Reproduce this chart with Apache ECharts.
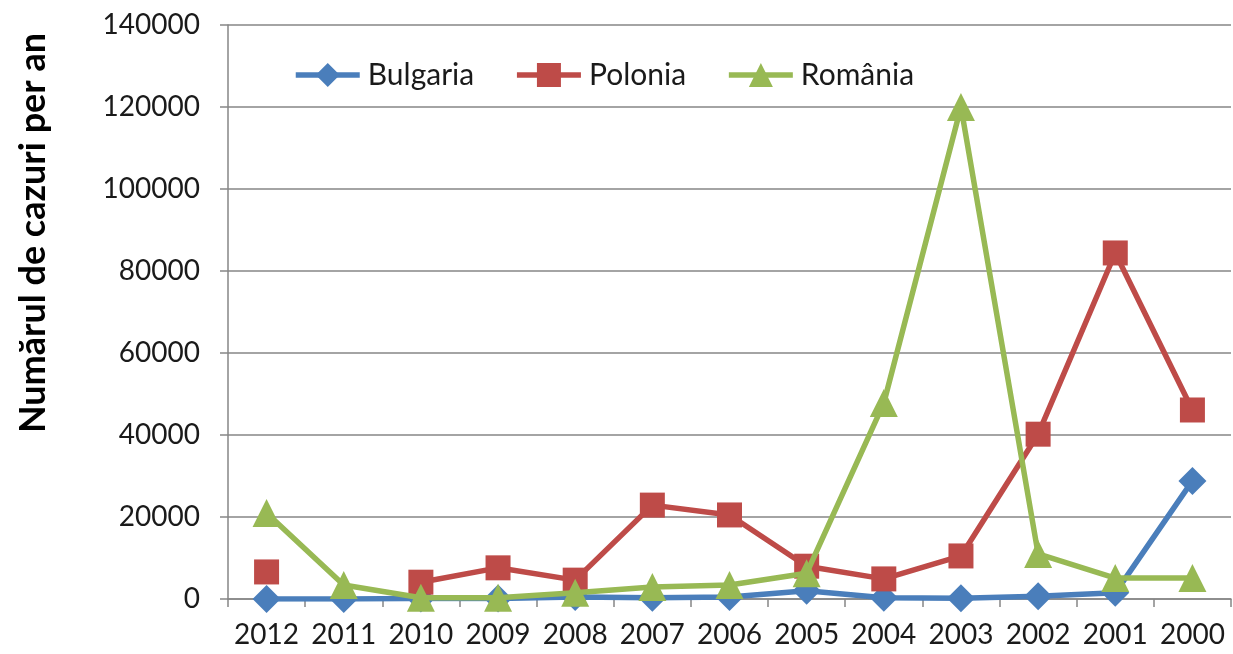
<!DOCTYPE html>
<html>
<head>
<meta charset="utf-8">
<script src="https://cdn.jsdelivr.net/npm/echarts@6/dist/echarts.min.js"></script>
<style>
  html, body { margin: 0; padding: 0; background: #fff; }
  #chart { width: 1233px; height: 654px; }
</style>
</head>
<body>
<div id="chart"></div>
<script>
const years = ['2012', '2011', '2010', '2009', '2008', '2007', '2006', '2005', '2004', '2003', '2002', '2001', '2000'];
const bulgaria = [0, 0, 100, 100, 500, 300, 500, 2000, 300, 200, 700, 1500, 28800];
const polonia = [6600, null, 4100, 7600, 4600, 22900, 20500, 8000, 4900, 10500, 40200, 84400, 46100];
const romania = [21000, 3400, 300, 300, 1500, 2900, 3400, 6300, 47800, 120000, 11000, 5100, 5100];

const font = 'Lato, "Open Sans", sans-serif';

const chart = echarts.init(document.getElementById('chart'));
chart.setOption({
    animation: false,
    grid: { left: 228, right: 2, top: 25, bottom: 55 },
    legend: {
        top: 55,
        left: 288,
        itemWidth: 64,
        itemHeight: 30,
        itemGap: 40,
        lineStyle: { width: 5.5 },
        textStyle: { fontFamily: font, fontSize: 30, color: '#1a1a1a', padding: [0, 0, 0, 3] },
        data: ['Bulgaria', 'Polonia', 'România']
    },
    graphic: [{
        type: 'text',
        x: 33,
        y: 233,
        rotation: Math.PI / 2,
        style: {
            text: 'Numărul de cazuri per an',
            fontFamily: font,
            fontSize: 36,
            fontWeight: 'bold',
            fill: '#000',
            align: 'center',
            verticalAlign: 'middle'
        }
    }],
    xAxis: {
        type: 'category',
        data: years,
        boundaryGap: true,
        axisLine: { lineStyle: { color: '#868686', width: 1.5 } },
        axisTick: { show: true, length: 8, interval: 0, lineStyle: { color: '#868686', width: 1.5 } },
        axisLabel: { fontFamily: font, fontSize: 28, color: '#1a1a1a', margin: 22, interval: 0 }
    },
    yAxis: {
        type: 'value',
        min: 0,
        max: 140000,
        interval: 20000,
        axisLine: { show: true, lineStyle: { color: '#868686', width: 1.5 } },
        axisTick: { show: true, length: 8, lineStyle: { color: '#868686', width: 1.5 } },
        axisLabel: { fontFamily: font, fontSize: 28, color: '#1a1a1a', margin: 28, formatter: v => String(v) },
        splitLine: { lineStyle: { color: '#868686', width: 1.5 } }
    },
    series: [{
        name: 'Bulgaria',
        type: 'line',
        data: bulgaria,
        symbol: 'diamond',
        symbolSize: 28,
        lineStyle: { color: '#4a7ebb', width: 5.5 },
        itemStyle: { color: '#4a7ebb' },
        z: 2
    }, {
        name: 'Polonia',
        type: 'line',
        data: polonia,
        connectNulls: false,
        symbol: 'rect',
        symbolSize: 25,
        lineStyle: { color: '#be4b48', width: 5.5 },
        itemStyle: { color: '#be4b48' },
        z: 3
    }, {
        name: 'România',
        type: 'line',
        data: romania,
        symbol: 'triangle',
        symbolSize: 28,
        lineStyle: { color: '#98b954', width: 5.5 },
        itemStyle: { color: '#98b954' },
        z: 4
    }]
});
</script>
</body>
</html>
